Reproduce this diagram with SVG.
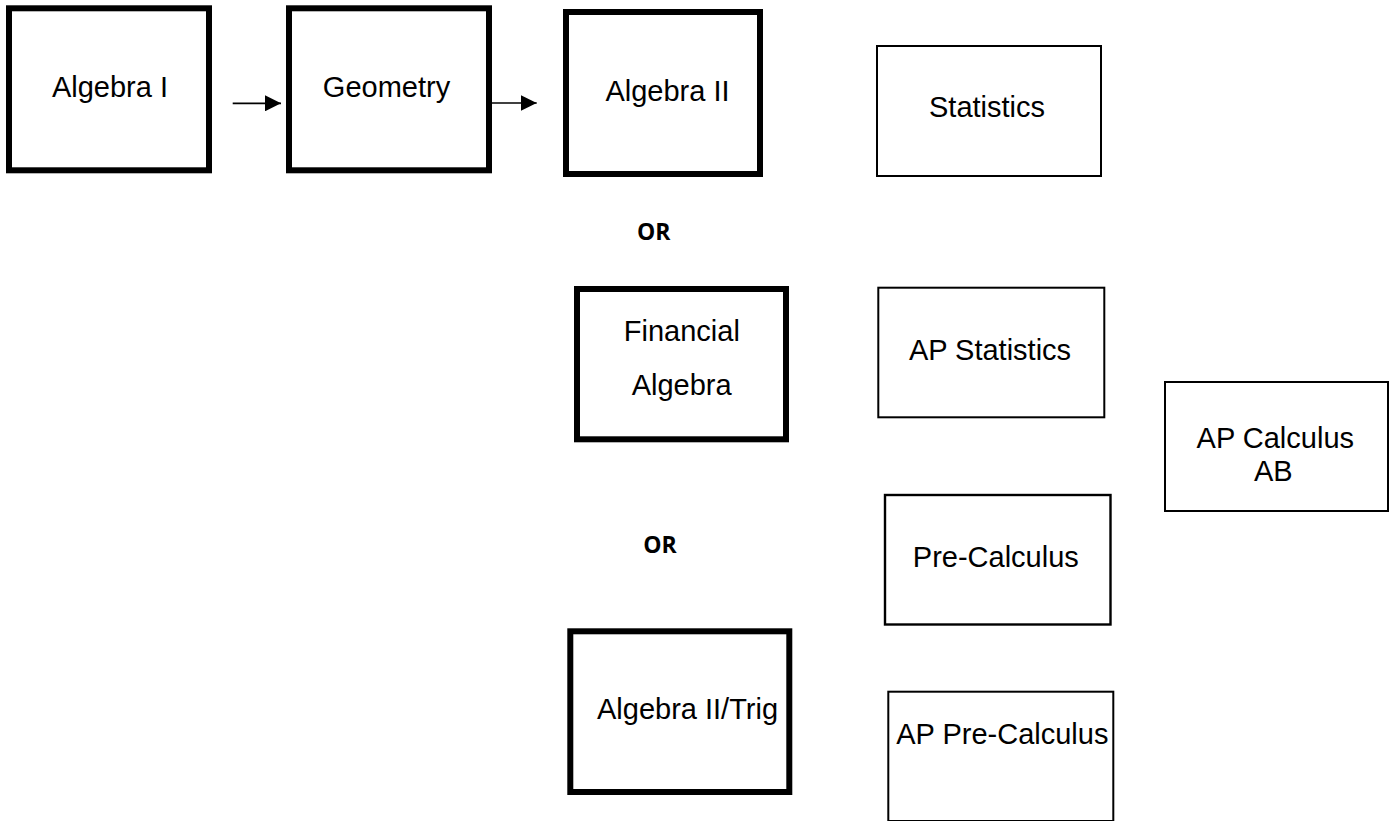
<svg xmlns="http://www.w3.org/2000/svg" width="1393" height="821" viewBox="0 0 1393 821">
<style>
.thick{fill:#fff;stroke:#000;stroke-width:6}
.thin{fill:#fff;stroke:#000;stroke-width:2}
.lbl{font-family:"Liberation Sans",Arial,sans-serif;font-size:29px;fill:#000;text-anchor:middle}
.or{font-family:"Open Sans","Liberation Sans",sans-serif;font-weight:bold;font-size:23px;fill:#000}
.conn{stroke:#000;stroke-width:1.7;fill:none}
</style>
<defs>
<marker id="arr" markerUnits="userSpaceOnUse" markerWidth="16" markerHeight="16" refX="16" refY="8" orient="auto">
<path d="M0,0 L16,8 L0,16 z" fill="#000"/>
</marker>
</defs>
<rect width="1393" height="821" fill="#fff"/>
<g id="algebra1">
<rect class="thick" x="9" y="8.3" width="200" height="162"/>
<text class="lbl" x="110" y="97.3">Algebra I</text>
</g>
<g id="geometry">
<rect class="thick" x="289" y="8.3" width="200" height="162"/>
<text class="lbl" x="386.5" y="97.3">Geometry</text>
</g>
<g id="algebra2">
<rect class="thick" x="566" y="12" width="194" height="162"/>
<text class="lbl" x="667.5" y="100.7">Algebra II</text>
</g>
<g id="statistics">
<rect class="thin" x="877" y="46" width="224" height="130"/>
<text class="lbl" x="987" y="117">Statistics</text>
</g>
<g id="or1">
<text class="or" x="637" y="240">OR</text>
</g>
<g id="financial">
<rect class="thick" x="577" y="289" width="209" height="150.3"/>
<text class="lbl" x="681.8" y="340.7">Financial</text>
<text class="lbl" x="681.7" y="395">Algebra</text>
</g>
<g id="apstatistics">
<rect class="thin" x="878.3" y="287.7" width="226" height="129.6"/>
<text class="lbl" x="990" y="360">AP Statistics</text>
</g>
<g id="apcalculus">
<rect class="thin" x="1165" y="382" width="223" height="129"/>
<text class="lbl" x="1275.3" y="448">AP Calculus</text>
<text class="lbl" x="1273.3" y="481">AB</text>
</g>
<g id="or2">
<text class="or" x="643.3" y="552.7">OR</text>
</g>
<g id="precalculus">
<rect class="thin" x="885" y="495" width="225.5" height="129.5" style="stroke-width:2.4"/>
<text class="lbl" x="995.8" y="567.3">Pre-Calculus</text>
</g>
<g id="algebra2trig">
<rect class="thick" x="570.3" y="631.3" width="219" height="160.7"/>
<text class="lbl" x="687.5" y="719.3">Algebra II/Trig</text>
</g>
<g id="approcalculus">
<rect class="thin" x="888.3" y="691.7" width="225" height="129.3"/>
<text class="lbl" x="1002.3" y="744">AP Pre-Calculus</text>
</g>
<g id="connectors">
<line class="conn" x1="232.7" y1="103.3" x2="281" y2="103.3" marker-end="url(#arr)"/>
<line class="conn" x1="492" y1="103" x2="536.7" y2="103" marker-end="url(#arr)"/>
</g>
</svg>
